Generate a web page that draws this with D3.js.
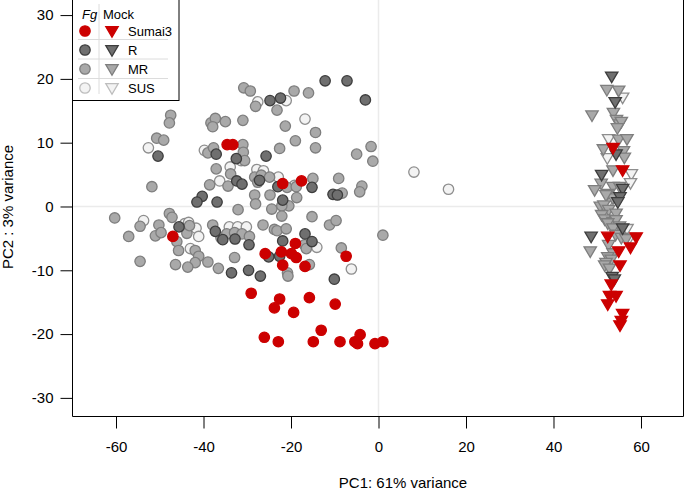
<!DOCTYPE html>
<html><head><meta charset="utf-8">
<script src="https://cdn.jsdelivr.net/npm/d3@7"></script>
<style>body{margin:0;background:#fff}svg{display:block;font-family:"Liberation Sans",Arial,Helvetica,sans-serif}</style>
</head><body><svg id="c" width="685" height="491"></svg>
<script>
// ---- data (PC1, PC2) ----
const groups = ["Sumai3", "R", "MR", "SUS"];
const xTicks = [-60, -40, -20, 0, 20, 40, 60];
const yTicks = [-30, -20, -10, 0, 10, 20, 30];
const xTitle = "PC1: 61% variance";
const yTitle = "PC2 : 3% variance";

const fgSumai3 = [[-47.0,-4.7],[-34.6,9.7],[-33.3,9.7],[-21.9,3.6],[-17.6,4.0],[-25.9,-7.4],[-22.2,-7.1],[-19.0,-5.8],[-19.9,-7.4],[-18.8,-8.0],[-21.9,-9.2],[-16.8,-9.4],[-7.4,-7.8],[-29.1,-13.6],[-22.6,-14.5],[-23.8,-15.9],[-19.4,-16.6],[-15.8,-14.3],[-9.9,-15.3],[-13.1,-19.4],[-26.1,-20.5],[-22.9,-21.2],[-14.9,-21.2],[-8.8,-21.2],[-4.2,-20.1],[-5.4,-21.2],[-4.8,-21.5],[-0.8,-21.5],[1.0,-21.2]];
const fgR = [[-12.2,19.7],[-7.2,19.7],[-3.0,16.7],[-24.8,16.6],[-22.4,17.0],[-50.4,7.9],[-37.1,8.2],[-32.5,7.5],[-25.7,7.9],[-32.4,4.0],[-31.2,3.5],[-40.3,1.6],[-41.5,0.7],[-36.9,0.7],[-23.0,3.1],[-15.2,3.0],[-10.4,1.9],[-9.4,1.8],[-21.9,1.0],[-45.6,-3.2],[-37.3,-3.9],[-35.6,-5.2],[-32.8,-5.1],[-29.6,-6.0],[-33.6,-10.4],[-29.7,-10.0],[-27.0,-10.9],[-16.8,-4.3],[-15.2,-5.5],[-21.9,-5.4],[-25.1,-7.9],[-22.6,-7.8],[-10.1,-11.4],[-27.2,4.1]];
const fgMR = [[-30.8,18.6],[-29.3,18.1],[-19.3,18.1],[-16.0,17.8],[-28.1,15.7],[-23.2,15.1],[-47.5,14.3],[-47.8,13.1],[-38.3,13.1],[-37.3,13.8],[-37.9,12.5],[-35.0,13.3],[-31.0,13.5],[-21.3,12.6],[-14.4,11.6],[-50.7,10.7],[-49.1,10.4],[-19.0,10.3],[-22.6,9.1],[-14.4,9.2],[-1.7,9.4],[-5.0,8.2],[-1.3,7.1],[-39.0,8.4],[-37.7,9.2],[-31.0,9.7],[-30.9,8.5],[-30.6,7.2],[-37.1,5.9],[-33.8,5.1],[-38.6,3.4],[-34.4,3.2],[-51.8,3.1],[-28.3,4.6],[-26.8,4.9],[-24.9,4.6],[-27.6,3.8],[-20.9,3.0],[-18.8,3.1],[-15.0,4.4],[-9.1,4.4],[-3.8,3.2],[-4.3,2.3],[-8.3,2.1],[-28.3,1.8],[-28.1,0.4],[-24.8,1.8],[-20.5,0.1],[-18.7,1.4],[-32.1,-0.5],[-24.4,-0.4],[-22.1,0.1],[-22.1,-1.5],[-15.2,-1.6],[-11.2,-2.9],[-9.7,-2.2],[-26.4,-2.9],[-23.8,-3.6],[-23.2,-3.8],[-21.1,-3.5],[-60.3,-1.8],[-54.5,-3.1],[-57.1,-4.7],[-50.2,-2.9],[-51.0,-4.6],[-49.7,-4.1],[-47.8,-1.1],[-47.2,-1.7],[-46.1,-5.5],[-45.7,-6.9],[-43.8,-4.2],[-43.2,-3.0],[-41.9,-6.9],[-41.1,-7.8],[-39.0,-8.7],[-41.9,-8.8],[-43.6,-9.5],[-46.4,-9.1],[-54.5,-8.6],[-36.6,-9.7],[-32.9,-8.0],[-37.9,-2.9],[-36.0,-4.9],[-34.7,-4.3],[-32.9,-4.1],[-31.2,-4.3],[-29.5,-4.7],[-16.9,-6.0],[-16.5,-6.6],[-20.8,-10.4],[-20.7,-10.9],[-15.8,-9.1],[-8.5,-6.5],[1.0,-4.5]];
const fgSUS = [[-27.6,16.4],[-21.1,16.6],[-16.8,13.7],[-52.6,9.2],[-39.8,8.8],[-31.4,7.2],[-33.9,6.2],[-36.3,4.0],[-27.8,5.8],[-26.3,5.6],[-22.9,4.6],[-19.2,3.3],[-53.7,-2.2],[-44.3,-2.7],[-43.4,-2.5],[-41.7,-3.4],[-41.1,-4.7],[-43.0,-6.6],[-34.1,-3.2],[-32.2,-3.2],[-30.2,-3.2],[-14.1,-6.4],[-6.2,-9.8],[8.1,5.4],[16.0,2.7]];

const mockSumai3 = [[53.6,9.2],[55.8,5.7],[52.4,-4.7],[58.9,-4.8],[57.6,-6.4],[54.9,-7.0],[55.2,-9.2],[53.2,-12.2],[52.8,-14.0],[54.3,-14.0],[52.4,-15.3],[55.8,-16.8],[55.5,-17.9],[55.2,-18.6]];
const mockR = [[53.3,20.4],[54.1,16.4],[54.3,8.2],[51.0,5.0],[55.8,2.8],[55.2,1.5],[54.7,0.7],[55.8,-3.4],[48.6,-4.7],[53.4,-11.0],[53.9,-11.4]];
const mockMR = [[52.2,18.3],[54.9,18.2],[48.8,14.3],[53.7,14.7],[54.4,13.6],[55.1,12.9],[55.5,13.3],[54.6,12.3],[54.9,10.5],[56.8,10.6],[51.4,9.0],[56.0,8.7],[56.2,7.7],[53.6,5.7],[50.9,3.6],[53.6,3.1],[55.1,3.1],[49.4,2.6],[52.4,2.0],[53.6,1.3],[52.0,1.8],[50.7,0.0],[51.5,0.2],[52.6,-0.5],[51.0,-1.3],[54.3,-1.1],[51.7,-2.0],[53.6,-2.4],[54.3,-2.1],[52.4,-2.6],[55.1,-3.1],[53.6,-3.4],[54.2,-4.4],[55.5,-4.9],[56.6,-5.1],[52.6,-6.0],[48.4,-7.0],[53.6,-7.3],[52.4,-7.9],[53.2,-8.3],[52.0,-8.8],[51.7,-9.2],[52.8,-9.7]];
const mockSUS = [[55.8,17.1],[52.6,10.6],[52.3,7.6],[57.8,5.1],[57.6,3.7],[56.8,-3.5],[57.4,-4.9],[52.1,0.1]];

// ---- styles ----
const fills = {Sumai3:"#cc0000", R:"#6f6f6f", MR:"#a9a9a9", SUS:"#f3f3f3"};
const strokes = {Sumai3:"#cc0000", R:"#3d3d3d", MR:"#7e7e7e", SUS:"#8e8e8e"};

const svg = d3.select("#c");
const x = d3.scaleLinear().domain([-70.06, 69.83]).range([72, 684]);
const y = d3.scaleLinear().domain([-32.84, 32.6]).range([416, -1.5]);
const fmt = d => String(d); // plain hyphen-minus as in the original

// grid lines at zero
svg.append("line").attr("x1", x(0)).attr("x2", x(0)).attr("y1", y.range()[1]).attr("y2", y.range()[0])
  .attr("stroke", "#ebebeb").attr("stroke-width", 1.5);
svg.append("line").attr("x1", x.range()[0]).attr("x2", x.range()[1]).attr("y1", y(0)).attr("y2", y(0))
  .attr("stroke", "#ebebeb").attr("stroke-width", 1.5);

const tri = "M-6.2,-4.3L6.2,-4.3L0,6.3Z";
const circ = (data, g) => svg.append("g").selectAll("circle").data(data).join("circle")
  .attr("cx", d => x(d[0])).attr("cy", d => y(d[1])).attr("r", 5.2)
  .attr("fill", fills[g]).attr("stroke", strokes[g]).attr("stroke-width", 1.3);
const tris = (data, g) => svg.append("g").selectAll("path").data(data).join("path")
  .attr("d", tri).attr("transform", d => `translate(${x(d[0])},${y(d[1])})`)
  .attr("fill", fills[g]).attr("stroke", strokes[g]).attr("stroke-width", 1.3).attr("stroke-linejoin", "miter");

circ(fgSUS, "SUS"); circ(fgMR, "MR"); circ(fgR, "R"); circ(fgSumai3, "Sumai3");
tris(mockSUS, "SUS"); tris(mockMR, "MR"); tris(mockR, "R"); tris(mockSumai3, "Sumai3");

// frame
svg.append("path").attr("d", `M72.5,-3V416.5H683.5V-3`).attr("fill", "none").attr("stroke", "#000").attr("stroke-width", 1);

// axes
const xAxis = d3.axisBottom(x).tickValues(xTicks).tickSize(12).tickPadding(13).tickFormat(fmt);
const gx = svg.append("g").attr("transform", "translate(0,416.5)").call(xAxis);
gx.select(".domain").remove();
gx.selectAll("text").attr("font-size", 15).attr("fill", "#000").attr("font-family", "Liberation Sans, Arial, sans-serif");
gx.selectAll("line").attr("stroke", "#000");

const yAxis = d3.axisLeft(y).tickValues(yTicks).tickSize(12).tickPadding(7).tickFormat(fmt);
const gy = svg.append("g").attr("transform", "translate(72.5,0)").call(yAxis);
gy.select(".domain").remove();
gy.selectAll("text").attr("font-size", 15).attr("fill", "#000").attr("font-family", "Liberation Sans, Arial, sans-serif");
gy.selectAll("line").attr("stroke", "#000");

svg.append("text").attr("x", 403).attr("y", 488).attr("text-anchor", "middle").attr("font-size", 15).text(xTitle);
svg.append("text").attr("transform", "translate(13,207) rotate(-90)").attr("text-anchor", "middle").attr("font-size", 15).text(yTitle);

// legend
const lg = svg.append("g");
lg.append("rect").attr("x", 72.5).attr("y", -1).attr("width", 106.5).attr("height", 101.5)
  .attr("fill", "#fff").attr("stroke", "#000");
lg.append("line").attr("x1", 99).attr("x2", 99).attr("y1", 4).attr("y2", 94).attr("stroke", "#dcdcdc");
const rowY = [31, 50, 69, 88];
[39.5, 59, 78.5].forEach(v => lg.append("line").attr("x1", 78).attr("x2", 168).attr("y1", v).attr("y2", v).attr("stroke", "#dcdcdc"));
lg.append("text").attr("x", 82).attr("y", 19).attr("font-size", 13).attr("font-style", "italic").text("Fg");
lg.append("text").attr("x", 103).attr("y", 19).attr("font-size", 13).text("Mock");
groups.forEach((g, i) => {
  lg.append("circle").attr("cx", 85).attr("cy", rowY[i]).attr("r", 5.2).attr("fill", fills[g]).attr("stroke", g === "SUS" ? "#bdbdbd" : strokes[g]).attr("stroke-width", 1.3);
  lg.append("path").attr("d", tri).attr("transform", `translate(112,${rowY[i]})`).attr("fill", fills[g]).attr("stroke", g === "SUS" ? "#bdbdbd" : strokes[g]).attr("stroke-width", 1.3);
  lg.append("text").attr("x", 128).attr("y", rowY[i] + 4.5).attr("font-size", 13).text(g);
});
</script></body></html>
